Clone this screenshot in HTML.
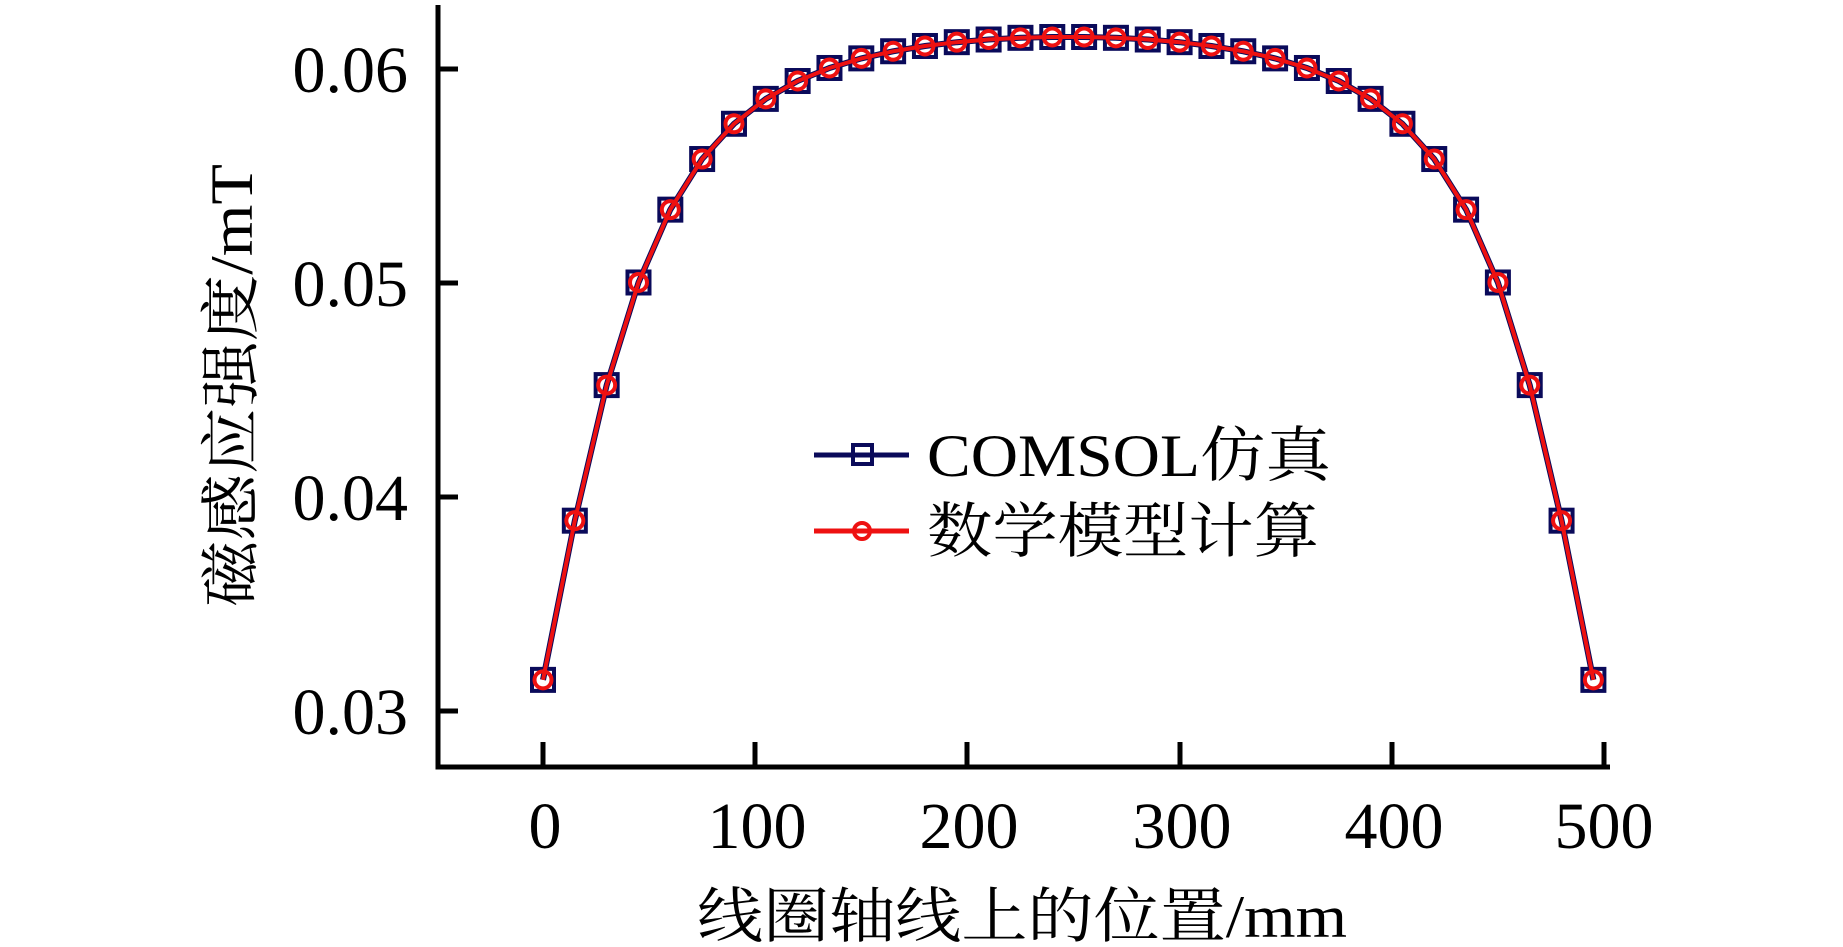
<!DOCTYPE html>
<html><head><meta charset="utf-8"><style>html,body{margin:0;padding:0;background:#fff}svg{display:block}</style></head>
<body>
<svg xmlns="http://www.w3.org/2000/svg" width="1843" height="947" viewBox="0 0 1843 947" id="s">
<g font-family="'Liberation Serif','Noto Serif CJK SC',serif" fill="#000">
<path d="M438 5 V767 H1610" fill="none" stroke="#000" stroke-width="5"/>
<g stroke="#000" stroke-width="5">
<line x1="438" y1="69" x2="458" y2="69"/>
<line x1="438" y1="283" x2="458" y2="283"/>
<line x1="438" y1="497" x2="458" y2="497"/>
<line x1="438" y1="711" x2="458" y2="711"/>
<line x1="543" y1="767" x2="543" y2="742"/>
<line x1="755" y1="767" x2="755" y2="742"/>
<line x1="967" y1="767" x2="967" y2="742"/>
<line x1="1180" y1="767" x2="1180" y2="742"/>
<line x1="1392" y1="767" x2="1392" y2="742"/>
<line x1="1604" y1="767" x2="1604" y2="742"/>
</g>
<g font-size="66" text-anchor="end">
<text x="408" y="92">0.06</text>
<text x="408" y="306">0.05</text>
<text x="408" y="520">0.04</text>
<text x="408" y="734">0.03</text>
</g>
<g font-size="66" text-anchor="middle">
<text x="545" y="848">0</text>
<text x="757" y="848">100</text>
<text x="969" y="848">200</text>
<text x="1182" y="848">300</text>
<text x="1394" y="848">400</text>
<text x="1604" y="848">500</text>
</g>
<text x="697" y="937" font-size="60" textLength="650" lengthAdjust="spacingAndGlyphs">线圈轴线上的位置/mm</text>
<text transform="translate(252,607) rotate(-90)" font-size="60" textLength="443" lengthAdjust="spacingAndGlyphs">磁感应强度/mT</text>
<line x1="814" y1="455" x2="909" y2="455" stroke="#0a0a5a" stroke-width="5"/>
<rect x="853" y="445" width="19" height="19" fill="none" stroke="#0a0a5a" stroke-width="4"/>
<line x1="814" y1="531" x2="909" y2="531" stroke="#ee1111" stroke-width="5"/>
<circle cx="862" cy="531" r="8" fill="none" stroke="#ee1111" stroke-width="4"/>
<text x="927" y="476" font-size="60" textLength="404" lengthAdjust="spacingAndGlyphs">COMSOL仿真</text>
<text x="927" y="552" font-size="60" textLength="392" lengthAdjust="spacingAndGlyphs">数学模型计算</text>
</g>
<g id="data"></g>
</svg>
<script>
(function(){
var L=495,a=62;
function f(t){return t/Math.sqrt(t*t+a*a)+(L-t)/Math.sqrt((L-t)*(L-t)+a*a);}
var fm=f(L/2);
function v(t){return 0.0615*f(t)/fm;}
function X(t){return 543+t*2.122;}
function Y(val){return 711-(val-0.03)/0.01*214;}
var pts=[];for(var t=0;t<=495;t+=15)pts.push([X(t),Y(v(t))]);
var d='M'+pts.map(function(p){return p[0].toFixed(1)+' '+p[1].toFixed(1)}).join(' L');
var s='<path d="'+d+'" fill="none" stroke="#0a0a5a" stroke-width="6"/>';
pts.forEach(function(p){s+='<rect x="'+(p[0]-11)+'" y="'+(p[1]-11)+'" width="22" height="22" fill="none" stroke="#0a0a5a" stroke-width="4"/>';});
s+='<path d="'+d+'" fill="none" stroke="#ee1111" stroke-width="4"/>';
pts.forEach(function(p){s+='<circle cx="'+p[0]+'" cy="'+p[1]+'" r="8.5" fill="none" stroke="#ee1111" stroke-width="4"/>';});
document.getElementById('data').innerHTML=s;
})();
</script>
</body></html>
